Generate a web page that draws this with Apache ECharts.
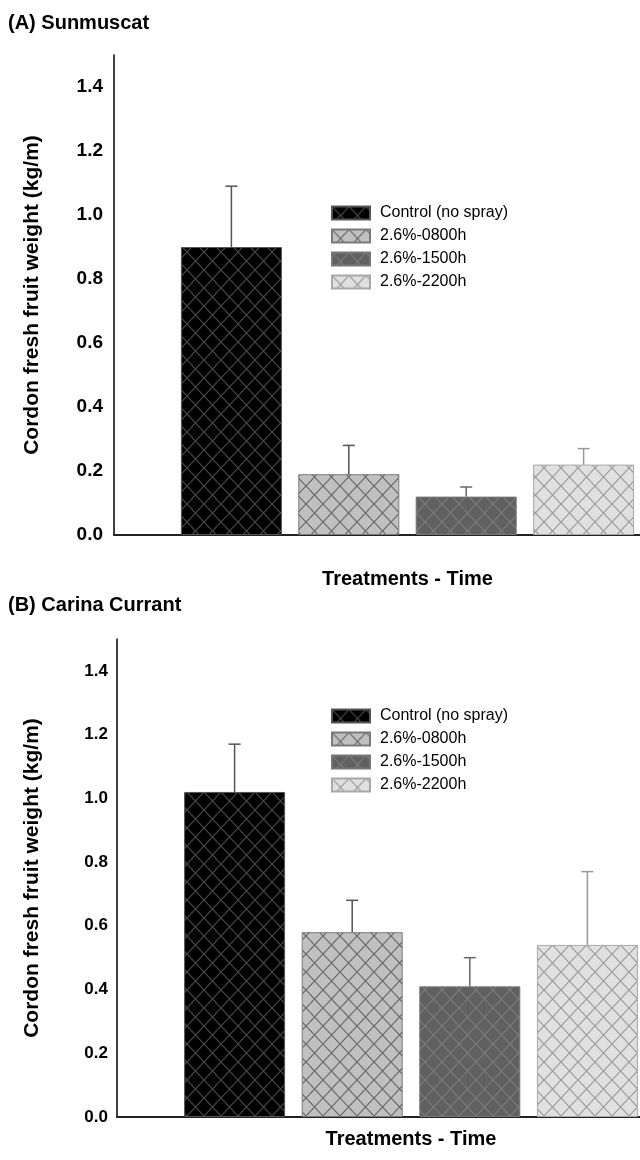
<!DOCTYPE html>
<html>
<head>
<meta charset="utf-8">
<script src="https://cdn.jsdelivr.net/npm/echarts@6/dist/echarts.min.js"></script>
<style>
  html, body { margin: 0; padding: 0; background: #fff; }
  #chart-container { width: 640px; height: 1160px; }
</style>
</head>
<body>
<div id="chart-container"></div>
<script>
// treatments, one bar each
const treatments = ['Control (no spray)', '2.6%-0800h', '2.6%-1500h', '2.6%-2200h'];
// (A) Sunmuscat: mean and top of error bar (kg/m)
const sunmuscatMean = [0.90, 0.19, 0.12, 0.22];
const sunmuscatUpper = [1.09, 0.28, 0.15, 0.27];
// (B) Carina Currant
const currantMean = [1.02, 0.58, 0.41, 0.54];
const currantUpper = [1.17, 0.68, 0.50, 0.77];
// y axis
const yMin = 0;
const yMax = 1.5;
const yStep = 0.2;

const panelTitles = ['(A) Sunmuscat', '(B) Carina Currant'];
const xName = 'Treatments - Time';
const yName = 'Cordon fresh fruit weight (kg/m)';

const FONT = "'Liberation Sans', Arial, sans-serif";

// fill, hatch line, bar border, error bar
const styles = [
    { fill: '#000000', line: '#4a4a4a', border: '#555555', err: '#555555' },
    { fill: '#c0c0c0', line: '#666666', border: '#7a7a7a', err: '#555555' },
    { fill: '#606060', line: '#7c7c7c', border: '#777777', err: '#666666' },
    { fill: '#e0e0e0', line: '#999999', border: '#a8a8a8', err: '#999999' },
];

// crosshatch pattern
function makeHatch(bg, line) {
    const w = 17, h = 18;
    const c = document.createElement('canvas');
    c.width = w;
    c.height = h;
    const ctx = c.getContext('2d');
    ctx.fillStyle = bg;
    ctx.fillRect(0, 0, w, h);
    ctx.strokeStyle = line;
    ctx.lineWidth = 1.2;
    ctx.beginPath();
    ctx.moveTo(0, 0);
    ctx.lineTo(w, h);
    ctx.moveTo(0, h);
    ctx.lineTo(w, 0);
    ctx.stroke();
    return { image: c, repeat: 'repeat' };
}

const patterns = styles.map(s => makeHatch(s.fill, s.line));

// the x axis runs on past the right edge of the picture (figure was cropped)
const grids = [
    { left: 114, top: 55, width: 587, height: 480, outerBoundsMode: 'none' },
    { left: 117, top: 639, width: 588, height: 478, outerBoundsMode: 'none' },
];
const labelSize = [19, 17];
const labelMargin = [11, 9];
const nameGapY = [71, 74];
const nameGapX = [34, 12];

function barSeries(panel, means) {
    return treatments.map((name, i) => ({
        name,
        type: 'bar',
        xAxisIndex: panel,
        yAxisIndex: panel,
        barWidth: 101,
        barGap: '-100%',
        itemStyle: {
            color: patterns[i],
            borderColor: styles[i].border,
            borderWidth: 1,
        },
        emphasis: { disabled: true },
        data: [[i + 1, means[i]]],
    }));
}

function errorSeries(panel, means, upper) {
    return {
        type: 'custom',
        xAxisIndex: panel,
        yAxisIndex: panel,
        z: 5,
        silent: true,
        data: treatments.map((_, i) => [i + 1, means[i], upper[i], i]),
        renderItem: function (params, api) {
            const p0 = api.coord([api.value(0), api.value(1)]);
            const p1 = api.coord([api.value(0), api.value(2)]);
            const col = styles[api.value(3)].err;
            const st = { stroke: col, lineWidth: 1.5 };
            return {
                type: 'group',
                children: [
                    { type: 'line', shape: { x1: p0[0], y1: p0[1], x2: p1[0], y2: p1[1] }, style: st },
                    { type: 'line', shape: { x1: p1[0] - 6, y1: p1[1], x2: p1[0] + 6, y2: p1[1] }, style: st },
                ],
            };
        },
    };
}

function legendAt(top) {
    return {
        orient: 'vertical', left: 331, top,
        padding: 0,
        icon: 'rect',
        itemWidth: 38, itemHeight: 13, itemGap: 7,
        data: treatments,
        textStyle: { fontFamily: FONT, fontSize: 16, color: '#000', padding: [0, 0, 0, 5] },
        selectedMode: false,
    };
}

const option = {
    backgroundColor: '#fff',
    animation: false,
    title: [
        { text: panelTitles[0], left: 8, top: 13, padding: 0, textStyle: { fontFamily: FONT, fontSize: 20, fontWeight: 'bold', color: '#000' } },
        { text: panelTitles[1], left: 8, top: 595, padding: 0, textStyle: { fontFamily: FONT, fontSize: 20, fontWeight: 'bold', color: '#000' } },
    ],
    legend: [legendAt(205), legendAt(708)],
    grid: grids,
    xAxis: [0, 1].map(p => ({
        type: 'value',
        gridIndex: p,
        min: 0,
        max: treatments.length + 1,
        name: xName,
        nameLocation: 'middle',
        nameGap: nameGapX[p],
        nameTextStyle: { fontFamily: FONT, fontSize: 20, fontWeight: 'bold', color: '#000' },
        axisLine: { show: true, lineStyle: { color: '#222', width: 2 } },
        axisTick: { show: false },
        axisLabel: { show: false },
        splitLine: { show: false },
    })),
    yAxis: [0, 1].map(p => ({
        type: 'value',
        gridIndex: p,
        min: yMin,
        max: yMax,
        interval: yStep,
        name: yName,
        nameLocation: 'middle',
        nameGap: nameGapY[p],
        nameTextStyle: { fontFamily: FONT, fontSize: 21, fontWeight: 'bold', color: '#000' },
        axisLine: { show: true, lineStyle: { color: '#000', width: 1.5 } },
        axisTick: { show: false },
        splitLine: { show: false },
        axisLabel: {
            showMaxLabel: false,
            margin: labelMargin[p],
            fontFamily: FONT,
            fontSize: labelSize[p],
            fontWeight: 'bold',
            color: '#000',
            formatter: v => v.toFixed(1),
        },
    })),
    series: [
        ...barSeries(0, sunmuscatMean),
        errorSeries(0, sunmuscatMean, sunmuscatUpper),
        ...barSeries(1, currantMean),
        errorSeries(1, currantMean, currantUpper),
    ],
};

const myChart = echarts.init(document.getElementById('chart-container'));
myChart.setOption(option);
</script>
</body>
</html>
